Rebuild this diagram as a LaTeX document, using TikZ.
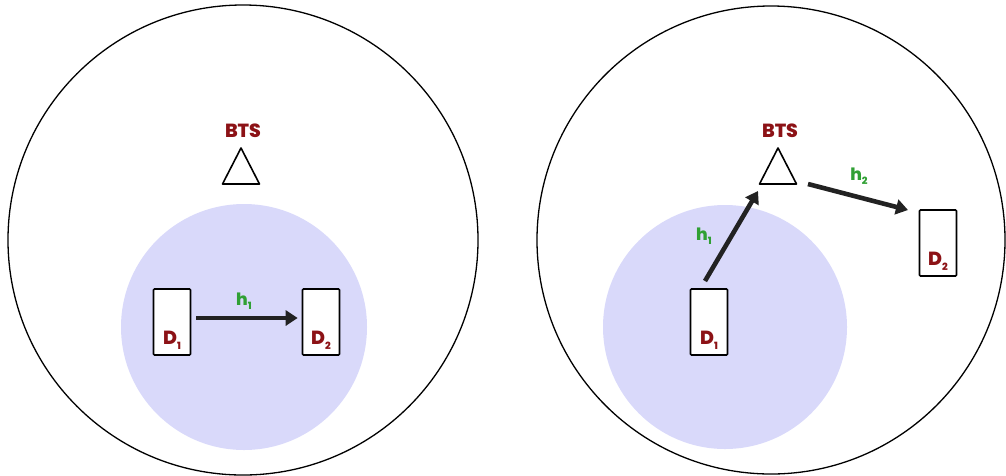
\documentclass[tikz,border=0pt]{standalone}
\usepackage{fontspec}
\setmainfont{Poppins}[BoldFont={* ExtraBold}]
\usetikzlibrary{arrows.meta,positioning,calc}
\definecolor{labelred}{RGB}{140,18,22}
\definecolor{linkgreen}{RGB}{48,160,52}
\definecolor{zonefill}{RGB}{217,217,250}
\definecolor{arrowdark}{RGB}{34,34,34}
\newcommand\lowidx[1]{\raisebox{-0.45ex}{\fontsize{10}{10}\selectfont #1}}

\begin{document}
\begin{tikzpicture}[x=1pt, y=-1pt, >={Triangle[length=12pt,width=15pt]}]
        \tikzset{cell/.style={draw=black, line width=1.3pt},
                 zone/.style={fill=zonefill},
                 device/.style={rectangle, draw, line width=1.6pt, rounded corners=1pt, fill=white, minimum width=37pt, minimum height=66pt, inner sep=0pt},
                 devname/.style={font=\bfseries\fontsize{19}{19}\selectfont, text=labelred, inner sep=0pt},
                 btsname/.style={font=\bfseries\fontsize{19}{19}\selectfont, text=labelred, inner sep=0pt},
                 chan/.style={font=\bfseries\fontsize{17}{17}\selectfont, text=linkgreen, inner sep=0pt},
                 link/.style={->, line width=4.6pt, draw=arrowdark, fill=arrowdark},
                 tower/.style={draw, line width=1.6pt, fill=white, line join=round}}
        \useasboundingbox (0,0) rectangle (1006,475);
        % left cell: D2D link inside the zone
        \draw[cell] (243,240) circle (235);
        \fill[zone] (244,327) circle (123);
        \coordinate (btsA) at (241,166);
        \draw[tower] ($(btsA)+(0,-18)$) -- ++(18.5,36) -- ++(-37,0) -- cycle;
        \node[btsname] (btsAname) at (243,131) {BTS};
        \node[device] (d1A) at (172,322) {};
        \node[device] (d2A) at (321,322) {};
        \node[devname, above=6pt of d1A.south] {D\lowidx{1}};
        \node[devname, above=6pt of d2A.south] {D\lowidx{2}};
        \draw[link] ($(d1A.east)+(5,-4)$) -- ($(d2A.west)+(-4,-4)$);
        \node[chan] at (244,301) {h\lowidx{1}};
        % right cell: relayed through the BTS
        \draw[cell] (771,240) circle (234);
        \fill[zone] (725,327) circle (122);
        \coordinate (btsB) at (778,166);
        \draw[tower] ($(btsB)+(0,-18)$) -- ++(18.5,36) -- ++(-37,0) -- cycle;
        \node[btsname] (btsBname) at (780,131) {BTS};
        \node[device] (d1B) at (709,322) {};
        \node[device] (d2B) at (938,243) {};
        \node[devname, above=6pt of d1B.south] {D\lowidx{1}};
        \node[devname, above=6pt of d2B.south] {D\lowidx{2}};
        \coordinate (upfrom) at (705,281);
        \coordinate (upto) at (758,191);
        \coordinate (downfrom) at (808,184);
        \coordinate (downto) at (908,210);
        \draw[link] (upfrom) -- (upto);
        \draw[link] (downfrom) -- (downto);
        \node[chan] at (704,236) {h\lowidx{1}};
        \node[chan] at (859,176) {h\lowidx{2}};
    \end{tikzpicture}
\end{document}
